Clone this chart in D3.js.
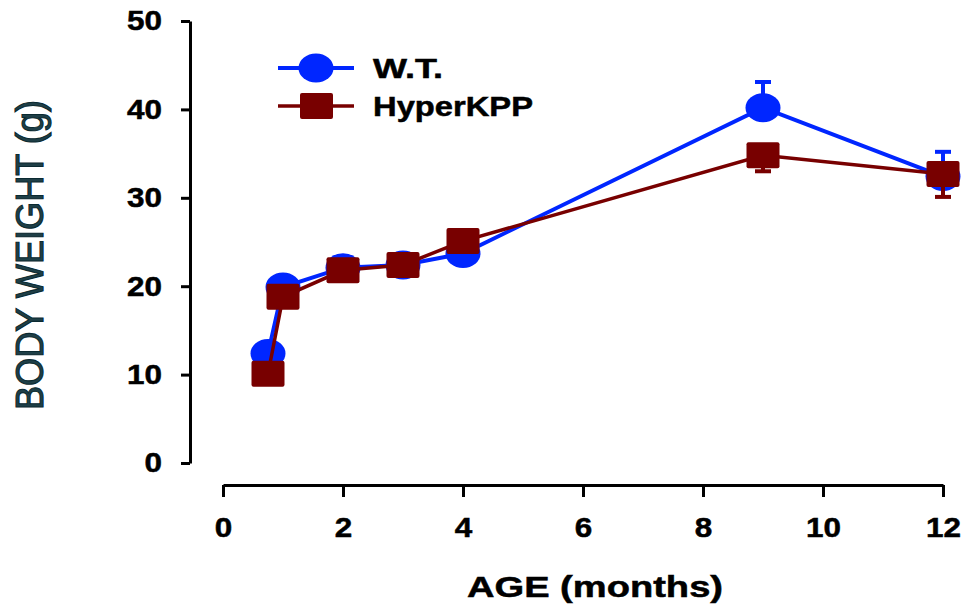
<!DOCTYPE html>
<html>
<head>
<meta charset="utf-8">
<script src="https://cdn.jsdelivr.net/npm/d3@7"></script>
<style>
  html, body { margin: 0; padding: 0; background: #fff; }
  svg { display: block; }
  text { font-family: "Liberation Sans", Arial, sans-serif; }
</style>
</head>
<body>
<svg id="chart" width="965" height="608"></svg>
<script>
// ---- data ----
const ages = [0.75, 1, 2, 3, 4, 9, 12];
const wtMean = [12.4, 19.9, 22.1, 22.4, 23.7, 40.2, 32.4];
const wtErr = [0.6, 0.6, 0.5, 0.5, 0.6, 2.9, 2.8];
const hkMean = [10.1, 18.8, 21.8, 22.4, 25.1, 34.8, 32.7];
const hkErr = [0.6, 0.6, 0.5, 0.5, 0.6, 1.8, 2.6];
const xTicks = [0, 2, 4, 6, 8, 10, 12];
const yTicks = [0, 10, 20, 30, 40, 50];
const seriesNames = ["W.T.", "HyperKPP"];

const BLUE = "#0026ff", RED = "#780000";

const svg = d3.select("#chart");
const x = d3.scaleLinear().domain([0, 12]).range([223, 943]);
const y = d3.scaleLinear().domain([0, 50]).range([463, 21]);

// ---- axes ----
const yAxis = svg.append("g").attr("transform", "translate(190,0)")
  .call(d3.axisLeft(y).tickValues(yTicks).tickSize(9).tickSizeOuter(0).tickPadding(19));
const xAxis = svg.append("g").attr("transform", "translate(0,485)")
  .call(d3.axisBottom(x).tickValues(xTicks).tickSize(12).tickSizeOuter(0).tickPadding(20));
[yAxis, xAxis].forEach(g => {
  g.select(".domain").attr("stroke", "#000").attr("stroke-width", 3);
  g.selectAll(".tick line").attr("stroke", "#000").attr("stroke-width", 3);
  g.selectAll(".tick text")
    .attr("fill", "#000").attr("stroke", "#000").attr("stroke-width", 0.5)
    .style("font-size", "28px").style("font-weight", "bold")
    .attr("textLength", function () { return this.textContent.length * 17.5; })
    .attr("lengthAdjust", "spacingAndGlyphs");
});

svg.append("text").attr("x", 595).attr("y", 597).attr("text-anchor", "middle")
  .attr("stroke", "#000").attr("stroke-width", 0.5)
  .style("font-size", "30px").style("font-weight", "bold")
  .attr("textLength", 256).attr("lengthAdjust", "spacingAndGlyphs")
  .text("AGE (months)");

svg.append("text").attr("transform", "translate(43,255) rotate(-90)")
  .attr("text-anchor", "middle")
  .style("font-size", "38px")
  .attr("fill", "#1f3f47").attr("stroke", "#0b2a31").attr("stroke-width", 1.1)
  .attr("textLength", 310).attr("lengthAdjust", "spacingAndGlyphs")
  .text("BODY WEIGHT (g)");

// ---- series ----
function drawSeries(means, errs, color, dir, shape, lw) {
  const pts = ages.map((a, i) => ({ a, m: means[i], e: errs[i] }));
  const g = svg.append("g");
  g.append("path").datum(pts)
    .attr("fill", "none").attr("stroke", color).attr("stroke-width", lw)
    .attr("d", d3.line().x(d => x(d.a)).y(d => y(d.m)));
  // one-sided error bars
  g.selectAll(".eb").data(pts).join("line")
    .attr("x1", d => x(d.a)).attr("x2", d => x(d.a))
    .attr("y1", d => y(d.m)).attr("y2", d => y(d.m + dir * d.e))
    .attr("stroke", color).attr("stroke-width", 4);
  g.selectAll(".cap").data(pts).join("line")
    .attr("x1", d => x(d.a) - 8).attr("x2", d => x(d.a) + 8)
    .attr("y1", d => y(d.m + dir * d.e)).attr("y2", d => y(d.m + dir * d.e))
    .attr("stroke", color).attr("stroke-width", 4);
  if (shape === "circle") {
    g.selectAll(".mk").data(pts).join("ellipse")
      .attr("cx", d => x(d.a)).attr("cy", d => y(d.m))
      .attr("rx", 17.5).attr("ry", 14.5).attr("fill", color);
  } else {
    g.selectAll(".mk").data(pts).join("rect")
      .attr("x", d => x(d.a) - 16.5).attr("y", d => y(d.m) - 13)
      .attr("width", 33).attr("height", 26).attr("rx", 2).attr("fill", color);
  }
}
drawSeries(wtMean, wtErr, BLUE, 1, "circle", 4);
drawSeries(hkMean, hkErr, RED, -1, "square", 3.5);

// ---- legend ----
const leg = svg.append("g");
leg.append("line").attr("x1", 278).attr("x2", 354).attr("y1", 68).attr("y2", 68)
  .attr("stroke", BLUE).attr("stroke-width", 4);
leg.append("ellipse").attr("cx", 316).attr("cy", 68).attr("rx", 17.5).attr("ry", 14.5).attr("fill", BLUE);
leg.append("line").attr("x1", 278).attr("x2", 354).attr("y1", 106).attr("y2", 106)
  .attr("stroke", RED).attr("stroke-width", 3.5);
leg.append("rect").attr("x", 300).attr("y", 93).attr("width", 33).attr("height", 26).attr("rx", 2).attr("fill", RED);
leg.append("text").attr("x", 373).attr("y", 78)
  .attr("stroke", "#000").attr("stroke-width", 0.5)
  .style("font-size", "28px").style("font-weight", "bold")
  .attr("textLength", 70).attr("lengthAdjust", "spacingAndGlyphs").text(seriesNames[0]);
leg.append("text").attr("x", 373).attr("y", 116)
  .attr("stroke", "#000").attr("stroke-width", 0.5)
  .style("font-size", "28px").style("font-weight", "bold")
  .attr("textLength", 160).attr("lengthAdjust", "spacingAndGlyphs").text(seriesNames[1]);
</script>
</body>
</html>
